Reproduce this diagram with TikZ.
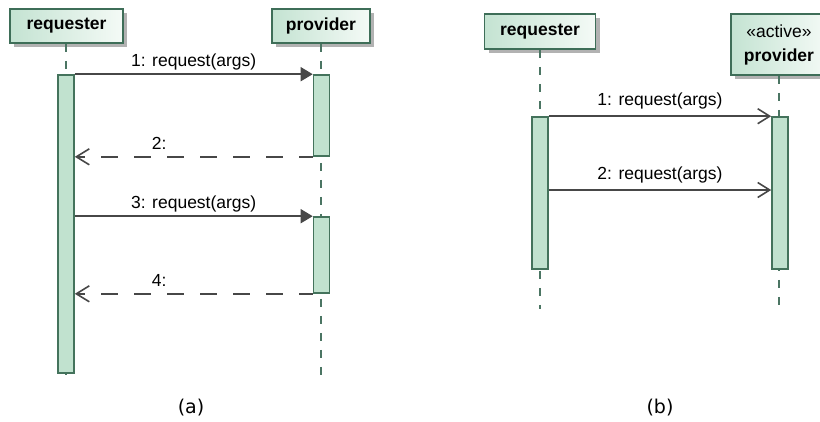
\documentclass[tikz,border=0pt]{standalone}
\usepackage{fontspec}
\setmainfont{Liberation Sans}
\newfontfamily\capfont{DejaVu Sans}
\usetikzlibrary{arrows.meta,shadows,calc}

\definecolor{boxline}{HTML}{3E6E58}
\definecolor{boxleft}{HTML}{C4E3D2}
\definecolor{boxright}{HTML}{F4FAF6}
\definecolor{actfill}{HTML}{C1E2CF}
\definecolor{actline}{HTML}{44735C}
\definecolor{lifecol}{HTML}{4B7563}
\definecolor{msgcol}{HTML}{474747}

\begin{document}
\begin{tikzpicture}[x=1pt,y=-1pt,
  participant/.style={draw=boxline, line width=1.6pt, left color=boxleft, right color=boxright,
    inner sep=0pt, font=\fontsize{17.5}{24}\selectfont\bfseries,
    drop shadow={shadow xshift=4pt, shadow yshift=-4pt, fill=black!30, opacity=1}},
  activation/.style={draw=actline, fill=actfill, line width=1.6pt, minimum width=16pt, inner sep=0pt},
  lifeline/.style={draw=lifecol, line width=1.5pt, dash pattern=on 8pt off 9pt},
  call/.style={draw=msgcol, line width=1.7pt, -{Triangle[length=12pt,width=14pt]}},
  async/.style={draw=msgcol, line width=1.6pt, -{Straight Barb[length=12pt,width=15pt,line width=1.6pt]}},
  reply/.style={draw=msgcol, line width=1.8pt, dash pattern=on 17pt off 16pt, dash phase=3pt,
    -{Straight Barb[length=13pt,width=16pt,line width=1.6pt]}},
  msglabel/.style={font=\fontsize{17.5}{20}\selectfont, anchor=base, inner sep=0pt},
  caption/.style={font=\capfont\fontsize{19}{22}\selectfont, inner sep=0pt}
]
\useasboundingbox (0,0) rectangle (820,421);

% ---------- (a) synchronous calls ----------
\node[participant, minimum width=113pt, minimum height=34pt] (rqA) at (66.5,26) {requester};
\node[participant, minimum width=98pt, minimum height=34pt] (pvA) at (321,26) {provider};

\coordinate (rqAend) at (66,381);
\coordinate (pvAend) at (321,381);
\draw[lifeline] (rqA.south -| rqAend) -- (rqAend);
\draw[lifeline] (pvA.south) -- (pvAend);

\node[activation, minimum height=298pt] (actRA) at (66,224) {};
\node[activation, minimum height=81pt] (actPA1) at (321.5,115.5) {};
\node[activation, minimum height=76pt] (actPA2) at (321.5,255) {};

\draw[call] (actRA.north east |- actPA1.north west) --
  node[msglabel, yshift=8pt] {1: request(args)} (actPA1.north west);
\draw[reply] (actPA1.south west) --
  node[msglabel, pos=0.645, yshift=7.5pt] {2:} (actPA1.south west -| actRA.east);
\draw[call] (actPA2.north west -| actRA.east) --
  node[msglabel, yshift=8pt] {3: request(args)} (actPA2.north west);
\draw[reply] (actPA2.south west) --
  node[msglabel, pos=0.645, yshift=7.5pt] {4:} (actPA2.south west -| actRA.east);

\node[caption] (capA) at (191,408) {(a)};

% ---------- (b) asynchronous calls to an active object ----------
\node[participant, minimum width=111pt, minimum height=35pt] (rqB) at (540,31.5) {requester};
\node[participant, minimum width=96pt, minimum height=61pt, align=center] (pvB) at (779,44.5)
  {{\mdseries «active»}\\provider};

\coordinate (rqBend) at (540,309);
\coordinate (pvBend) at (779,309);
\draw[lifeline] (rqB.south) -- (rqBend);
\draw[lifeline] (pvB.south) -- (pvBend);

\node[activation, minimum height=152pt] (actRB) at (540,193) {};
\node[activation, minimum height=152pt] (actPB) at (780,193) {};

\draw[async] (actRB.north east) --
  node[msglabel, yshift=10.5pt] {1: request(args)} (actPB.north west);
\coordinate (m2B) at (540,190);
\draw[async] (actRB.east |- m2B) --
  node[msglabel, yshift=10.5pt] {2: request(args)} (actPB.west |- m2B);

\node[caption] (capB) at (660,408) {(b)};
\end{tikzpicture}
\end{document}
